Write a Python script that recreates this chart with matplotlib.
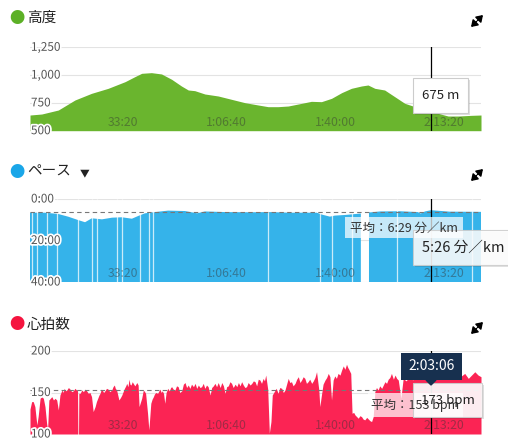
import numpy as np
import matplotlib
matplotlib.use('Agg')
import matplotlib.pyplot as plt
import matplotlib.patheffects as pe
from matplotlib.patches import Rectangle, Polygon, FancyArrowPatch

plt.rcParams['font.family'] = ['Noto Sans CJK JP', 'DejaVu Sans']

# Elevation (time in minutes, metres)
alt_t = [0.0, 3.6, 8.7, 13.8, 18.9, 24.0, 29.2, 32.2, 34.3, 37.3, 40.4, 43.5, 46.5,
         48.6, 50.6, 53.7, 57.8, 61.9, 66.0, 70.1, 73.1, 76.2, 79.3, 83.4, 86.4, 89.5,
         92.6, 95.7, 98.7, 101.8, 103.8, 105.9, 108.9, 112.0, 115.1, 118.2, 121.2,
         123.1, 125.3, 128.4, 131.5, 135.5, 138.5]
alt_m = [641, 650, 686, 776, 836, 881, 941, 986, 1016, 1022, 1010, 962, 902,
         866, 860, 830, 812, 782, 752, 731, 716, 716, 722, 746, 764, 761,
         791, 842, 881, 902, 911, 881, 866, 806, 746, 716, 701,
         675, 656, 632, 632, 638, 641]

# Pace (minutes per km), NaN = stopped
pace_t = [0.0, 4.6, 8.6, 11.7, 14.7, 16.9, 19.0, 22.1, 25.2, 28.2, 31.3, 33.2, 35.3,
          38.4, 42.4, 47.6, 51.3, 53.7, 59.9, 67.5, 73.7, 79.8, 88.1, 89.6, 92.1,
          93.6, 96.7, 101.6, 102.8, 104.1, 107.5, 113.6, 119.1, 120.0, 121.3, 123.1,
          128.9, 138.5]
pace_v = [6.6, 6.6, 7.2, 8.5, 10.1, 11.2, 9.3, 9.8, 9.0, 8.8, 9.5, 8.2, 6.9,
          6.3, 5.6, 5.8, 6.9, 6.0, 6.3, 6.4, 6.3, 6.6, 6.6, 7.5, 8.5,
          8.0, 7.7, 7.0, np.nan, 6.5, 6.0, 5.9, 6.3, 7.0, 6.0, 5.4,
          6.1, 6.2]
pace_stops = [0.7, 2.1, 5.3, 8.4, 14.8, 18.9, 20.5, 26.6, 28.2, 33.8, 36.5, 37.9,
              73.2, 89.0, 92.6, 98.8, 112.6, 135.6]
pace_avg = 6 + 29 / 60

# Heart rate (bpm)
hr_t = [0.0, 0.5, 1.0, 1.5, 2.1, 2.5, 3.1, 3.6, 4.1, 4.6, 5.1, 5.4, 5.8, 6.7, 7.2,
        7.7, 8.2, 8.7, 9.2, 9.6, 9.9, 10.2, 10.5, 10.9, 11.3, 11.8, 12.3, 12.8,
        13.3, 13.8, 14.3, 14.6, 14.7, 14.9, 15.0, 15.4, 15.9, 16.4, 16.9, 17.4,
        17.9, 18.4, 18.9, 19.4, 20.0, 20.4, 20.8, 21.2, 21.5, 21.9, 22.2, 22.6,
        23.0, 23.5, 24.0, 24.5, 25.1, 25.5, 25.9, 26.2, 26.6, 27.3, 27.8, 28.2,
        28.6, 29.0, 29.4, 29.7, 30.1, 30.4, 30.7, 31.0, 31.4, 31.7, 32.2, 32.8,
        33.2, 33.5, 34.3, 34.8, 35.2, 35.5, 36.1, 36.5, 37.1, 37.5, 37.9, 38.2,
        38.6, 39.2, 39.6, 39.9, 40.3, 40.6, 41.0, 41.4, 41.8, 42.3, 42.8, 43.2,
        43.5, 44.0, 44.5, 45.0, 45.5, 46.0, 46.6, 47.1, 47.6, 48.1, 48.6, 49.1,
        49.6, 50.2, 50.7, 51.2, 51.7, 52.2, 52.7, 53.2, 53.7, 54.2, 54.7, 55.3,
        55.8, 56.3, 56.8, 57.3, 57.8, 58.4, 58.9, 59.4, 59.9, 60.4, 60.9, 61.4,
        61.9, 62.4, 63.0, 63.5, 64.0, 64.5, 65.0, 65.5, 66.0, 66.5, 67.0, 67.6,
        68.1, 68.6, 69.1, 69.6, 70.1, 70.6, 71.1, 71.6, 72.0, 72.4, 73.0, 73.5,
        74.0, 74.4, 75.0, 75.6, 76.2, 76.7, 77.3, 77.8, 78.3, 78.8, 79.3, 79.8,
        80.3, 80.8, 81.4, 81.9, 82.4, 82.9, 83.4, 83.9, 84.4, 84.9, 85.4, 85.9,
        86.5, 87.0, 87.5, 88.0, 88.7, 89.0, 89.5, 90.0, 90.6, 91.1, 91.6, 92.1,
        92.6, 93.1, 93.6, 94.1, 94.6, 95.2, 95.7, 96.2, 96.7, 97.2, 97.6, 97.9,
        98.5, 98.9, 99.4, 99.8, 100.3, 100.8, 101.3, 101.8, 102.3, 102.8, 103.4, 103.9,
        104.4, 104.9, 105.4, 105.9, 106.4, 106.9, 107.4, 108.0, 108.5, 109.0, 109.5, 110.0,
        110.5, 111.0, 111.6, 112.1, 112.6, 113.1, 113.9, 114.6, 115.5, 116.7, 117.5, 118.5,
        119.7, 120.5, 121.5, 122.3, 123.1, 124.0, 125.0, 125.9, 127.0, 128.0, 128.9, 130.0,
        131.0, 132.0, 132.5, 133.5, 134.6, 135.6, 136.6, 137.6, 138.5]
hr_v = [130, 139, 139, 133, 111, 121, 143, 145, 143, 133, 113, 105, 141, 145, 141,
        143, 141, 129, 147, 151, 153, 150, 155, 152, 153, 156, 154, 151,
        152, 155, 153, 152, 100, 100, 149, 149, 153, 151, 154, 152,
        149, 150, 145, 127, 133, 139, 143, 147, 149, 154, 153, 150,
        152, 155, 154, 151, 153, 157, 159, 155, 153, 141, 144, 147,
        151, 155, 158, 161, 157, 166, 160, 159, 163, 161, 158, 162,
        159, 133, 143, 153, 151, 149, 125, 105, 137, 142, 145, 148,
        150, 149, 152, 154, 150, 152, 149, 137, 150, 155, 152, 156,
        157, 154, 153, 158, 157, 150, 152, 160, 162, 156, 159, 155,
        160, 157, 161, 155, 159, 156, 157, 161, 155, 159, 157, 147,
        156, 158, 161, 157, 162, 156, 162, 158, 149, 157, 158, 163,
        161, 156, 160, 157, 162, 158, 163, 159, 156, 157, 162, 159,
        161, 164, 163, 158, 166, 165, 161, 167, 164, 171, 154, 101,
        115, 147, 151, 155, 149, 156, 155, 150, 153, 160, 167, 162,
        163, 158, 161, 166, 169, 162, 165, 169, 167, 161, 163, 166,
        161, 164, 168, 175, 153, 133, 147, 160, 165, 168, 173, 169,
        141, 165, 170, 167, 173, 171, 177, 182, 178, 184, 180, 178,
        173, 125, 126, 123, 121, 119, 122, 121, 118, 117, 120, 118,
        116, 115, 121, 151, 156, 153, 158, 155, 159, 163, 161, 166,
        168, 173, 166, 171, 167, 165, 143, 167, 164, 170, 165, 170,
        168, 172, 166, 170, 173, 168, 172, 171, 166, 170, 169, 173,
        167, 171, 170, 173, 167, 171, 175, 171, 169]
hr_avg = 153

x_ticks = [2000 / 60, 4000 / 60, 6000 / 60, 8000 / 60]
x_labels = ['33:20', '1:06:40', '1:40:00', '2:13:20']
cursor_t = 7386 / 60

W, H = 508, 444
fig = plt.figure(figsize=(W / 100, H / 100), dpi=100)


def fx(px):
    return px / W


def fy(py):
    return 1 - py / H


halo = [pe.withStroke(linewidth=2.5, foreground='white')]


def make_axes(top, bottom):
    ax = fig.add_axes([fx(30), fy(bottom), 451 / W, (bottom - top) / H])
    ax.set_xlim(0, 138.5)
    ax.axis('off')
    return ax


def finish(ax, yticks, ylabels):
    for v in yticks:
        ax.axhline(v, color='#e3e3e3', lw=0.8, zorder=0)
    for v, s in zip(yticks, ylabels):
        ax.text(0.3, v, s, ha='left', va='center', fontsize=8.5, color='#555555',
                path_effects=halo, zorder=5)
    for t, s in zip(x_ticks, x_labels):
        ax.text(t, 0.1, s, transform=ax.get_xaxis_transform(), ha='right',
                va='center', fontsize=8.8, color='#333333', alpha=0.45, zorder=5)
    ax.axvline(cursor_t, color='black', lw=0.9, zorder=6)


def expand_icon(py):
    # two small arrowheads pointing out to the NE and SW corners
    for dx, dy in [(6, -6), (-6, 6)]:
        arr = FancyArrowPatch((fx(477 + dx * 0.1), fy(py + dy * 0.1)),
                              (fx(477 + dx), fy(py + dy)),
                              transform=fig.transFigure,
                              arrowstyle='-|>,head_length=0.45,head_width=0.3',
                              mutation_scale=8, color='black', lw=1.2,
                              shrinkA=0, shrinkB=0)
        fig.patches.append(arr)


def title(py, color, text):
    fig.text(fx(17), fy(py), '●', color=color, fontsize=11, va='center', ha='center')
    fig.text(fx(27), fy(py), text, color='#222222', fontsize=10.5, va='center', ha='left')
    expand_icon(py + 3)


def box(x0, y0, x1, y1, face='white', alpha=1.0, edge=None, shadow=False):
    if shadow:
        fig.patches.append(Rectangle((fx(x0 + 2), fy(y1 + 2)), (x1 - x0) / W, (y1 - y0) / H,
                                     transform=fig.transFigure, color='#000000',
                                     alpha=0.12, lw=0, zorder=20))
    fig.patches.append(Rectangle((fx(x0), fy(y1)), (x1 - x0) / W, (y1 - y0) / H,
                                 transform=fig.transFigure, facecolor=face, alpha=alpha,
                                 edgecolor=edge if edge else 'none', lw=0.8, zorder=21))


# Elevation panel
ax1 = make_axes(47.3, 130.7)
ax1.set_ylim(500, 1250)
ax1.fill_between(alt_t, alt_m, 500, color='#6ab52e', lw=0, zorder=2)
finish(ax1, [1250, 1000, 750, 500], ['1,250', '1,000', '750', '500'])
title(18, '#5cb026', '高度')

# Pace panel
ax2 = make_axes(199, 282)
ax2.set_ylim(40, 0)
ax2.fill_between(pace_t, pace_v, 40, color='#35b3ea', lw=0, zorder=2)
ax2.vlines(pace_stops, 0, 40, color='white', lw=0.9, alpha=0.75, zorder=3)
ax2.axhline(pace_avg, color='#777777', lw=0.8, ls=(0, (4, 3)), zorder=4)
finish(ax2, [0, 20, 40], ['0:00', '20:00', '40:00'])
title(172, '#1aa6e8', 'ペース')
fig.text(fx(80), fy(173), '▼', fontsize=7, color='#222222', va='center')

# Heart rate panel
ax3 = make_axes(351, 434)
ax3.set_ylim(100, 200)
ax3.fill_between(hr_t, hr_v, 100, color='#fb2454', lw=0, zorder=2)
ax3.axhline(hr_avg, color='#777777', lw=0.8, ls=(0, (4, 3)), zorder=4)
finish(ax3, [200, 150, 100], ['200', '150', '100'])
title(325, '#f5143f', '心拍数')

# Tooltips
box(413, 78, 468, 113, edge='#cccccc', shadow=True)
fig.text(fx(440.5), fy(95.5), '675 m', ha='center', va='center', fontsize=9.5,
         color='#222222', zorder=22)

box(345, 217, 463, 238, alpha=0.72)
fig.text(fx(350), fy(228), '平均：6:29 分／km', ha='left', va='center', fontsize=9,
         color='#333333', zorder=22)
box(413, 230, 515, 265, alpha=0.88, edge='#cccccc', shadow=True)
fig.text(fx(422), fy(248), '5:26 分／km', ha='left', va='center', fontsize=10.5,
         color='#222222', zorder=23)

box(368, 393, 463, 417, alpha=0.72)
fig.text(fx(371), fy(405), '平均：153 bpm', ha='left', va='center', fontsize=9,
         color='#333333', zorder=22)
box(413, 383, 482, 417, alpha=0.92, edge='#cccccc', shadow=True)
fig.text(fx(447.5), fy(400), '173 bpm', ha='center', va='center', fontsize=9.5,
         color='#222222', zorder=23)
box(401, 353, 462, 380, face='#17304f')
fig.patches.append(Polygon([(fx(426), fy(380)), (fx(436), fy(380)), (fx(431), fy(385))],
                           closed=True, transform=fig.transFigure, color='#17304f', zorder=21))
fig.text(fx(431.5), fy(366.5), '2:03:06', ha='center', va='center', fontsize=10,
         color='white', zorder=23)

fig.savefig('out.png', dpi=100)
